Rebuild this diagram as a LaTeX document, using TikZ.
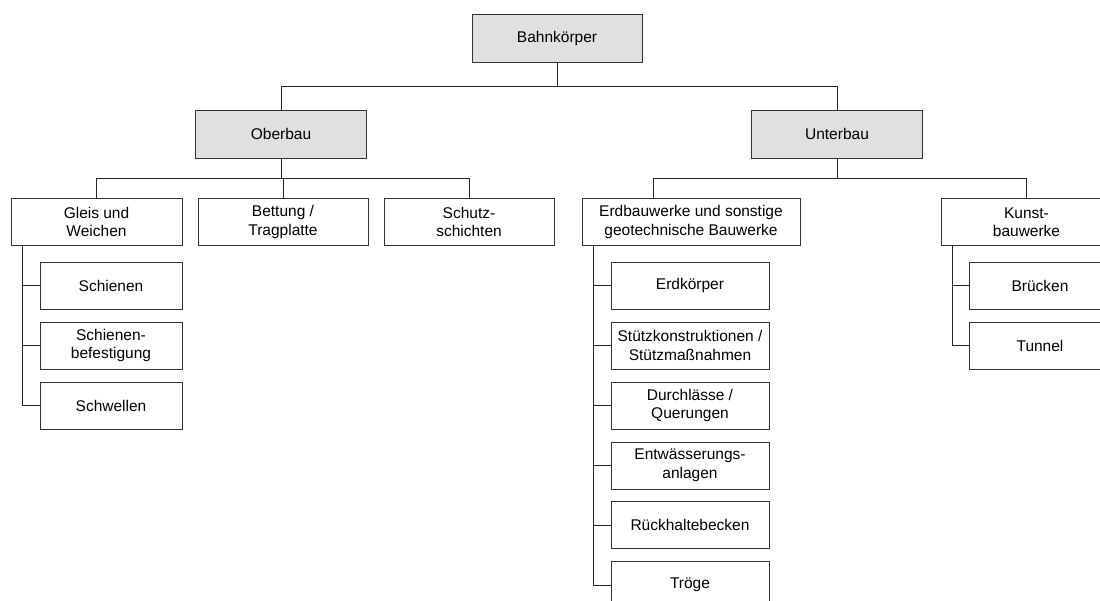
\documentclass[tikz,border=0pt]{standalone}
\usepackage{fontspec}
\setmainfont{Liberation Sans}
\begin{document}
\begin{tikzpicture}[x=1pt,y=-1pt,
  box/.style={draw=black!80, line width=0.9pt, inner sep=0pt, align=center,
    minimum height=47pt, font=\fontsize{15.5}{18.5}\selectfont, fill=white},
  head/.style={box, fill=black!12, minimum height=48pt},
  conn/.style={draw=black!85, line width=0.9pt}]
\clip (0,0) rectangle (1100,601);
\fill[white] (0,0) rectangle (1100,601);
% level 0
\node[head, minimum width=170pt] (bahn) at (557,38) {Bahnkörper};
% level 1
\node[head, minimum width=171pt] (ober) at (281,134) {Oberbau};
\node[head, minimum width=171pt] (unter) at (837,134) {Unterbau};
% level 2
\node[box, minimum width=171pt] (gleis) at (96.5,222) {Gleis und\\Weichen};
\node[box, minimum width=170pt] (bett) at (283,222) {Bettung /\\Tragplatte};
\node[box, minimum width=170pt] (schutz) at (469,222) {Schutz-\\schichten};
\node[box, minimum width=218pt] (erdb) at (691,222) {Erdbauwerke und sonstige\\geotechnische Bauwerke};
\node[box, minimum width=171pt] (kunst) at (1026.5,222) {Kunst-\\bauwerke};
% level 3 Gleis
\node[box, minimum width=142pt] (schienen) at (111,285.5) {Schienen};
\node[box, minimum width=142pt] (befest) at (111,345.5) {Schienen-\\befestigung};
\node[box, minimum width=142pt] (schwellen) at (111,405.5) {Schwellen};
% level 3 Erdbauwerke
\node[box, minimum width=158pt] (erdk) at (690,285.5) {Erdkörper};
\node[box, minimum width=158pt] (stuetz) at (690,345.5) {Stützkonstruktionen /\\Stützmaßnahmen};
\node[box, minimum width=158pt] (durch) at (690,405.5) {Durchlässe /\\Querungen};
\node[box, minimum width=158pt] (entw) at (690,465.5) {Entwässerungs-\\anlagen};
\node[box, minimum width=158pt] (rueck) at (690,525) {Rückhaltebecken};
\node[box, minimum width=158pt] (troege) at (690,585) {Tröge};
% level 3 Kunst
\node[box, minimum width=142pt] (bruecken) at (1040,285.5) {Brücken};
\node[box, minimum width=142pt] (tunnel) at (1040,345.5) {Tunnel};
% connectors level 0-1
\draw[conn] (bahn.south) -- ++(0,24) coordinate (j0);
\draw[conn] (ober.north) |- (j0) -| (unter.north);
% connectors level 1-2
\draw[conn] (ober.south) -- ++(0,20) coordinate (j1);
\draw[conn] (gleis.north) |- (j1) -| (schutz.north);
\draw[conn] (bett.north) -- (bett.north |- j1);
\draw[conn] (unter.south) -- ++(0,20) coordinate (j2);
\draw[conn] ([xshift=-38pt]erdb.north) |- (j2) -| (kunst.north);
% connectors level 2-3
\foreach \c in {schienen,befest,schwellen}
  \draw[conn] ([xshift=12pt]gleis.south west) |- (\c.west);
\foreach \c in {erdk,stuetz,durch,entw,rueck,troege}
  \draw[conn] ([xshift=12pt]erdb.south west) |- (\c.west);
\foreach \c in {bruecken,tunnel}
  \draw[conn] ([xshift=12pt]kunst.south west) |- (\c.west);
\end{tikzpicture}
\end{document}
